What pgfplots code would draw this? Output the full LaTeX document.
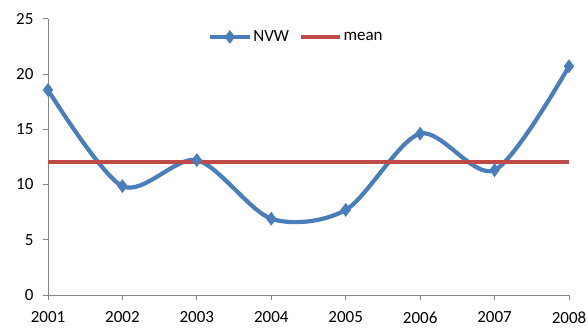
\documentclass[border=0pt]{standalone}
\usepackage{fontspec}
\setmainfont{Carlito}
\usepackage{pgfplots}
\pgfplotsset{compat=1.18}
\definecolor{nvwblue}{HTML}{4A7EBB}
\definecolor{meanred}{HTML}{BE4B48}
\definecolor{axgray}{HTML}{868686}
\begin{document}
\begin{tikzpicture}
\useasboundingbox (-48pt,-38pt) rectangle (540pt,295pt);
\begin{axis}[
  at={(0,0)}, anchor=south west,
  scale only axis,
  width=521pt, height=276.3pt,
  xmin=2001, xmax=2008, ymin=0, ymax=25,
  xtick={2001,2002,2003,2004,2005,2006,2007,2008},
  ytick={0,5,10,15,20,25},
  axis x line*=bottom, axis y line*=left,
  axis line style={axgray, line width=0.8pt, -},
  tick style={axgray, line width=0.8pt},
  tick align=outside,
  major tick length=5pt,
  font=\fontsize{17}{20}\selectfont,
  /pgf/number format/assume math mode=true,
  /pgf/number format/1000 sep={},
  xticklabel style={yshift=-8pt},
  yticklabel style={xshift=-6pt},
  legend style={draw=none, fill=none, at={(0.477,0.934)}, anchor=center,
    legend columns=2, font=\fontsize{17}{20}\selectfont,
    inner sep=0pt,
    /tikz/every even column/.append style={column sep=8pt}},
  legend image code/.code={
    \draw[#1, mark repeat=2, mark phase=2] plot coordinates {(0cm,0cm) (0.68cm,0cm) (1.36cm,0cm)};},
]
\addplot[nvwblue, line width=4.2pt, smooth, tension=0.5, mark=diamond*, mark size=6.5pt, mark options={solid, line width=0.5pt}]
  coordinates {(2001,18.55) (2002,9.85) (2003,12.2) (2004,6.9) (2005,7.7) (2006,14.6) (2007,11.3) (2008,20.7)};
\addlegendentry{NVW}
\addplot[meanred, line width=3.8pt] coordinates {(2001,12) (2008,12)};
\addlegendentry{mean}
\end{axis}
\end{tikzpicture}
\end{document}
